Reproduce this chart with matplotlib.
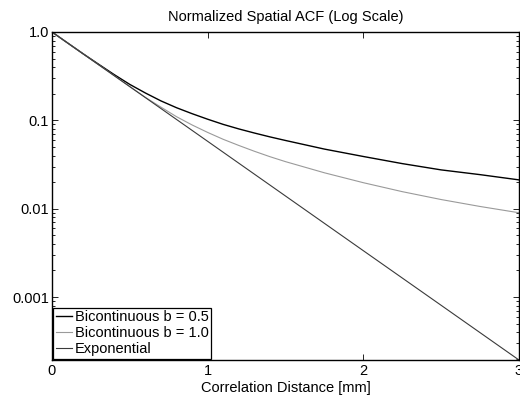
import matplotlib
matplotlib.use("Agg")
import matplotlib.pyplot as plt
from matplotlib.ticker import LogLocator, FixedLocator, FixedFormatter, NullFormatter

plt.rcParams['font.family'] = ['Liberation Sans', 'DejaVu Sans']
plt.rcParams['font.size'] = 10.5

# values
x_bi = [0, 0.1, 0.2, 0.3, 0.4, 0.5, 0.6, 0.7, 0.8, 0.9, 1.0, 1.1, 1.2, 1.3, 1.4, 1.5,
        1.75, 2.0, 2.25, 2.5, 2.75, 3.0]
acf_b05 = [1.0, 0.752, 0.567, 0.431, 0.329, 0.255, 0.204, 0.166, 0.139, 0.119, 0.103,
           0.090, 0.080, 0.0719, 0.0650, 0.0592, 0.0473, 0.0390, 0.0324, 0.0275, 0.0243, 0.0212]
acf_b10 = [1.0, 0.752, 0.566, 0.425, 0.320, 0.241, 0.182, 0.141, 0.110, 0.0887, 0.0730,
           0.0610, 0.0520, 0.0447, 0.0388, 0.0341, 0.0255, 0.0197, 0.0156, 0.0127, 0.0106, 0.0090]
x_exp = [0, 0.5, 1.0, 1.5, 2.0, 2.5, 3.0]
acf_exp = [1.0, 0.2406, 0.0579, 0.01393, 0.00335, 0.000807, 0.000194]

labels = ['Bicontinuous b = 0.5', 'Bicontinuous b = 1.0', 'Exponential']
yticks = [0.001, 0.01, 0.1, 1.0]
ytick_labels = ['0.001', '0.01', '0.1', '1.0']

fig = plt.figure(figsize=(5.2, 3.98), dpi=100)
ax = fig.add_axes([0.1, 0.0955, 0.898, 0.8241])

ax.semilogy(x_bi, acf_b05, color='black', lw=1.0, label=labels[0])
ax.semilogy(x_bi, acf_b10, color='#9a9a9a', lw=0.8, label=labels[1])
ax.semilogy(x_exp, acf_exp, color='#3a3a3a', lw=0.8, label=labels[2])

ax.set_xlim(0, 3)
ax.set_ylim(acf_exp[-1], 1.0)
ax.set_xticks([0, 1, 2, 3])
ax.yaxis.set_major_locator(FixedLocator(yticks))
ax.yaxis.set_major_formatter(FixedFormatter(ytick_labels))
ax.yaxis.set_minor_locator(LogLocator(base=10, subs=range(2, 10)))
ax.yaxis.set_minor_formatter(NullFormatter())

ax.tick_params(which='both', direction='in', top=True, right=True, width=0.6)
ax.tick_params(which='major', length=4, pad=2)
ax.tick_params(axis='x', which='major', pad=3)
ax.tick_params(which='minor', length=2.2)
for s in ax.spines.values():
    s.set_linewidth(1.0)

ax.set_title('Normalized Spatial ACF (Log Scale)', fontsize=10.5, pad=8)
ax.set_xlabel('Correlation Distance [mm]', fontsize=10.5, labelpad=2)

leg = ax.legend(loc='lower left', fontsize=10.5, handlelength=1.1, handletextpad=0.2,
                borderpad=0.15, labelspacing=0.15, borderaxespad=0.1, fancybox=False,
                framealpha=1, edgecolor='black')
leg.get_frame().set_linewidth(0.9)

fig.savefig('out.png', dpi=100)
